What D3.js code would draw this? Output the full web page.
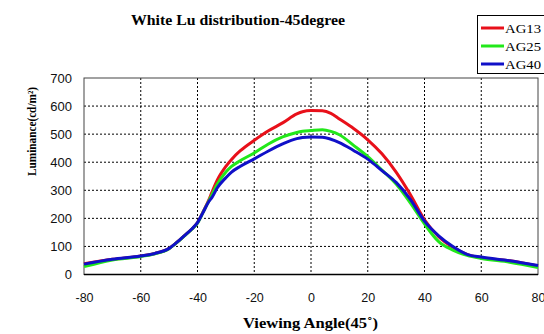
<!DOCTYPE html>
<html><head><meta charset="utf-8">
<script src="https://cdn.jsdelivr.net/npm/d3@7/dist/d3.min.js"></script>
<style>body{margin:0;background:#fff}</style>
</head><body>
<svg id="c" width="544" height="334"></svg>
<script>
const angles = [-80,-70,-60,-55,-50,-47,-45,-42,-40,-38,-36,-35,-33,-30,-28,-25,-20,-15,-10,-5,-3,0,4,7,10,15,20,25,30,35,40,45,50,55,60,70,80];
const ag13 = [38,54,66,75,93,117,135,162,185,224,266,291,337,385,410,440,478,512,540,572,580,584,583,574,554,520,480,430,365,285,195,135,97,72,60,49,30];
const ag25 = [28,52,64,74,92,116,134,161,183,222,262,282,322,365,385,405,433,465,490,506,510,513,516,510,498,460,420,372,322,255,180,117,87,68,57,44,25];
const ag40 = [37,54,66,75,93,117,135,162,185,222,260,273,309,345,365,385,412,440,465,484,488,490,489,482,470,442,411,370,328,268,190,138,100,72,62,49,32];
const seriesNames = ["AG13","AG25","AG40"];
const seriesColors = ["#e8101a","#22e81a","#1010c8"];
const xTicks = [-80,-60,-40,-20,0,20,40,60,80];
const yTicks = [0,100,200,300,400,500,600,700];

const svg = d3.select("#c");
const L=84, R=538, T=78, B=274.5;
const x = d3.scaleLinear().domain([-80,80]).range([L,R]);
const y = d3.scaleLinear().domain([0,700]).range([B,T]);

// grid
const g = svg.append("g");
g.selectAll(".vg").data(xTicks.slice(1,-1)).enter().append("line")
 .attr("x1",d=>x(d)).attr("x2",d=>x(d)).attr("y1",T).attr("y2",B)
 .attr("stroke","#000").attr("stroke-width",1).attr("stroke-dasharray","2,2");
g.selectAll(".hg").data(yTicks.slice(1,-1)).enter().append("line")
 .attr("x1",L).attr("x2",R).attr("y1",d=>y(d)).attr("y2",d=>y(d))
 .attr("stroke","#000").attr("stroke-width",1).attr("stroke-dasharray","2,2");
// frame
svg.append("rect").attr("x",L).attr("y",T).attr("width",R-L).attr("height",B-T)
 .attr("fill","none").attr("stroke","#444").attr("stroke-width",1);
svg.append("line").attr("x1",L).attr("x2",R).attr("y1",B).attr("y2",B).attr("stroke","#000").attr("stroke-width",1.5);

const fnt = "Arial, 'Liberation Sans', sans-serif";
const xa = svg.append("g").attr("transform",`translate(0,${B})`)
 .call(d3.axisBottom(x).tickValues(xTicks).tickFormat(d=>String(d)).tickSize(0).tickPadding(19));
xa.select(".domain").remove();
xa.selectAll("text").attr("font-family",fnt).attr("font-size",12.5).attr("fill","#111");
xa.selectAll(".tick").filter(d=>d===80).select("text").attr("text-anchor","end").attr("dx",7);
const ya = svg.append("g").attr("transform",`translate(${L},0)`)
 .call(d3.axisLeft(y).tickValues(yTicks).tickFormat(d=>String(d)).tickSize(0).tickPadding(12));
ya.select(".domain").remove();
ya.selectAll("text").attr("font-family",fnt).attr("font-size",13).attr("fill","#111");

// lines
const line = d3.line().x((d,i)=>x(angles[i])).y(d=>y(d)).curve(d3.curveMonotoneX);
[ag13,ag25,ag40].forEach((s,k)=>{
  svg.append("path").datum(s).attr("d",line).attr("fill","none")
   .attr("stroke",seriesColors[k]).attr("stroke-width",3).attr("stroke-linejoin","round");
});

const serif = "'Liberation Serif', 'Times New Roman', serif";
svg.append("text").attr("x",131).attr("y",25)
 .attr("font-family",serif).attr("font-weight","bold").attr("font-size",14)
 .attr("textLength",214).attr("lengthAdjust","spacingAndGlyphs")
 .text("White Lu distribution-45degree");
svg.append("text").attr("x",243).attr("y",328)
 .attr("font-family",serif).attr("font-weight","bold").attr("font-size",14)
 .attr("textLength",135).attr("lengthAdjust","spacingAndGlyphs")
 .text("Viewing Angle(45˚)");
svg.append("text").attr("transform","translate(36,176) rotate(-90)")
 .attr("font-family",serif).attr("font-weight","bold").attr("font-size",13)
 .attr("textLength",89).attr("lengthAdjust","spacingAndGlyphs")
 .text("Luminance(cd/m²)");

// legend
const lg = svg.append("g");
lg.append("rect").attr("x",477.5).attr("y",15.5).attr("width",70).attr("height",58)
 .attr("fill","#fff").attr("stroke","#000").attr("stroke-width",1);
seriesNames.forEach((n,k)=>{
  const yy = 28 + k*18;
  lg.append("line").attr("x1",481).attr("x2",504).attr("y1",yy).attr("y2",yy)
   .attr("stroke",seriesColors[k]).attr("stroke-width",3);
  lg.append("text").attr("x",505).attr("y",yy+5).attr("font-family",serif)
   .attr("font-size",13.5).attr("textLength",36).attr("lengthAdjust","spacingAndGlyphs").text(n);
});
</script>
</body></html>
